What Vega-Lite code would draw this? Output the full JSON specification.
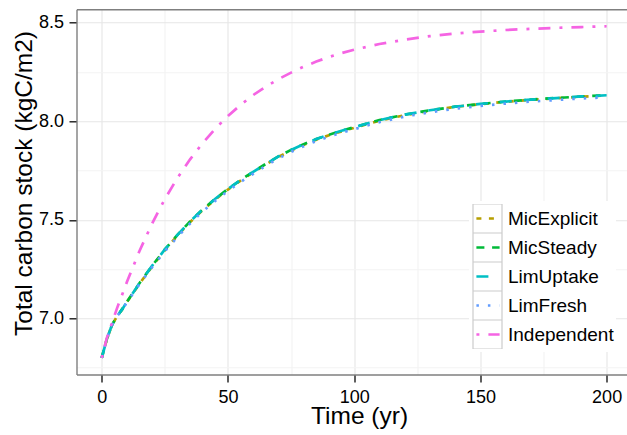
{
  "$schema": "https://vega.github.io/schema/vega-lite/v6.json",
  "width": 550.5,
  "height": 365.2,
  "autosize": {"type": "none"},
  "padding": {"left": 76.5, "top": 9.3, "right": 0, "bottom": 60.5},
  "background": "white",
  "config": {
    "view": {"stroke": null},
    "font": "Liberation Sans"
  },
  "data": {"values": [
    {"s":"MicExplicit","t":0,"c":6.800},{"s":"MicExplicit","t":2,"c":6.895},{"s":"MicExplicit","t":4,"c":6.965},{"s":"MicExplicit","t":6,"c":7.010},{"s":"MicExplicit","t":8,"c":7.045},{"s":"MicExplicit","t":10,"c":7.084},{"s":"MicExplicit","t":15,"c":7.177},{"s":"MicExplicit","t":20,"c":7.265},{"s":"MicExplicit","t":25,"c":7.347},{"s":"MicExplicit","t":30,"c":7.421},{"s":"MicExplicit","t":35,"c":7.489},{"s":"MicExplicit","t":40,"c":7.550},{"s":"MicExplicit","t":45,"c":7.604},{"s":"MicExplicit","t":50,"c":7.654},{"s":"MicExplicit","t":55,"c":7.699},{"s":"MicExplicit","t":60,"c":7.741},{"s":"MicExplicit","t":65,"c":7.781},{"s":"MicExplicit","t":70,"c":7.819},{"s":"MicExplicit","t":75,"c":7.852},{"s":"MicExplicit","t":80,"c":7.881},{"s":"MicExplicit","t":85,"c":7.907},{"s":"MicExplicit","t":90,"c":7.929},{"s":"MicExplicit","t":95,"c":7.949},{"s":"MicExplicit","t":100,"c":7.967},{"s":"MicExplicit","t":110,"c":8.003},{"s":"MicExplicit","t":120,"c":8.031},{"s":"MicExplicit","t":130,"c":8.054},{"s":"MicExplicit","t":140,"c":8.073},{"s":"MicExplicit","t":150,"c":8.087},{"s":"MicExplicit","t":160,"c":8.099},{"s":"MicExplicit","t":170,"c":8.109},{"s":"MicExplicit","t":180,"c":8.117},{"s":"MicExplicit","t":190,"c":8.125},{"s":"MicExplicit","t":200,"c":8.131},
    {"s":"MicSteady","t":0,"c":6.800},{"s":"MicSteady","t":2,"c":6.895},{"s":"MicSteady","t":4,"c":6.965},{"s":"MicSteady","t":6,"c":7.010},{"s":"MicSteady","t":8,"c":7.045},{"s":"MicSteady","t":10,"c":7.085},{"s":"MicSteady","t":15,"c":7.180},{"s":"MicSteady","t":20,"c":7.268},{"s":"MicSteady","t":25,"c":7.350},{"s":"MicSteady","t":30,"c":7.424},{"s":"MicSteady","t":35,"c":7.492},{"s":"MicSteady","t":40,"c":7.553},{"s":"MicSteady","t":45,"c":7.607},{"s":"MicSteady","t":50,"c":7.657},{"s":"MicSteady","t":55,"c":7.702},{"s":"MicSteady","t":60,"c":7.744},{"s":"MicSteady","t":65,"c":7.784},{"s":"MicSteady","t":70,"c":7.822},{"s":"MicSteady","t":75,"c":7.855},{"s":"MicSteady","t":80,"c":7.884},{"s":"MicSteady","t":85,"c":7.910},{"s":"MicSteady","t":90,"c":7.932},{"s":"MicSteady","t":95,"c":7.952},{"s":"MicSteady","t":100,"c":7.970},{"s":"MicSteady","t":110,"c":8.006},{"s":"MicSteady","t":120,"c":8.034},{"s":"MicSteady","t":130,"c":8.056},{"s":"MicSteady","t":140,"c":8.074},{"s":"MicSteady","t":150,"c":8.088},{"s":"MicSteady","t":160,"c":8.100},{"s":"MicSteady","t":170,"c":8.110},{"s":"MicSteady","t":180,"c":8.118},{"s":"MicSteady","t":190,"c":8.126},{"s":"MicSteady","t":200,"c":8.132},
    {"s":"LimUptake","t":0,"c":6.800},{"s":"LimUptake","t":2,"c":6.895},{"s":"LimUptake","t":4,"c":6.965},{"s":"LimUptake","t":6,"c":7.010},{"s":"LimUptake","t":8,"c":7.045},{"s":"LimUptake","t":10,"c":7.085},{"s":"LimUptake","t":15,"c":7.180},{"s":"LimUptake","t":20,"c":7.268},{"s":"LimUptake","t":25,"c":7.350},{"s":"LimUptake","t":30,"c":7.424},{"s":"LimUptake","t":35,"c":7.492},{"s":"LimUptake","t":40,"c":7.553},{"s":"LimUptake","t":45,"c":7.607},{"s":"LimUptake","t":50,"c":7.657},{"s":"LimUptake","t":55,"c":7.702},{"s":"LimUptake","t":60,"c":7.744},{"s":"LimUptake","t":65,"c":7.784},{"s":"LimUptake","t":70,"c":7.822},{"s":"LimUptake","t":75,"c":7.855},{"s":"LimUptake","t":80,"c":7.884},{"s":"LimUptake","t":85,"c":7.910},{"s":"LimUptake","t":90,"c":7.932},{"s":"LimUptake","t":95,"c":7.952},{"s":"LimUptake","t":100,"c":7.970},{"s":"LimUptake","t":110,"c":8.006},{"s":"LimUptake","t":120,"c":8.034},{"s":"LimUptake","t":130,"c":8.056},{"s":"LimUptake","t":140,"c":8.074},{"s":"LimUptake","t":150,"c":8.088},{"s":"LimUptake","t":160,"c":8.100},{"s":"LimUptake","t":170,"c":8.110},{"s":"LimUptake","t":180,"c":8.118},{"s":"LimUptake","t":190,"c":8.126},{"s":"LimUptake","t":200,"c":8.132},
    {"s":"LimFresh","t":0,"c":6.800},{"s":"LimFresh","t":2,"c":6.895},{"s":"LimFresh","t":4,"c":6.965},{"s":"LimFresh","t":6,"c":7.010},{"s":"LimFresh","t":8,"c":7.044},{"s":"LimFresh","t":10,"c":7.082},{"s":"LimFresh","t":15,"c":7.175},{"s":"LimFresh","t":20,"c":7.261},{"s":"LimFresh","t":25,"c":7.341},{"s":"LimFresh","t":30,"c":7.414},{"s":"LimFresh","t":35,"c":7.482},{"s":"LimFresh","t":40,"c":7.543},{"s":"LimFresh","t":45,"c":7.597},{"s":"LimFresh","t":50,"c":7.647},{"s":"LimFresh","t":55,"c":7.692},{"s":"LimFresh","t":60,"c":7.734},{"s":"LimFresh","t":65,"c":7.774},{"s":"LimFresh","t":70,"c":7.812},{"s":"LimFresh","t":75,"c":7.845},{"s":"LimFresh","t":80,"c":7.874},{"s":"LimFresh","t":85,"c":7.900},{"s":"LimFresh","t":90,"c":7.922},{"s":"LimFresh","t":95,"c":7.942},{"s":"LimFresh","t":100,"c":7.960},{"s":"LimFresh","t":110,"c":7.996},{"s":"LimFresh","t":120,"c":8.024},{"s":"LimFresh","t":130,"c":8.046},{"s":"LimFresh","t":140,"c":8.064},{"s":"LimFresh","t":150,"c":8.078},{"s":"LimFresh","t":160,"c":8.090},{"s":"LimFresh","t":170,"c":8.100},{"s":"LimFresh","t":180,"c":8.108},{"s":"LimFresh","t":190,"c":8.116},{"s":"LimFresh","t":200,"c":8.122},
    {"s":"Independent","t":0,"c":6.800},{"s":"Independent","t":2,"c":6.900},{"s":"Independent","t":4,"c":6.975},{"s":"Independent","t":6,"c":7.050},{"s":"Independent","t":8,"c":7.118},{"s":"Independent","t":10,"c":7.186},{"s":"Independent","t":15,"c":7.344},{"s":"Independent","t":20,"c":7.483},{"s":"Independent","t":25,"c":7.606},{"s":"Independent","t":30,"c":7.713},{"s":"Independent","t":35,"c":7.807},{"s":"Independent","t":40,"c":7.890},{"s":"Independent","t":45,"c":7.963},{"s":"Independent","t":50,"c":8.027},{"s":"Independent","t":55,"c":8.083},{"s":"Independent","t":60,"c":8.133},{"s":"Independent","t":65,"c":8.176},{"s":"Independent","t":70,"c":8.214},{"s":"Independent","t":75,"c":8.247},{"s":"Independent","t":80,"c":8.277},{"s":"Independent","t":85,"c":8.303},{"s":"Independent","t":90,"c":8.326},{"s":"Independent","t":95,"c":8.346},{"s":"Independent","t":100,"c":8.363},{"s":"Independent","t":110,"c":8.392},{"s":"Independent","t":120,"c":8.414},{"s":"Independent","t":130,"c":8.432},{"s":"Independent","t":140,"c":8.445},{"s":"Independent","t":150,"c":8.455},{"s":"Independent","t":160,"c":8.463},{"s":"Independent","t":170,"c":8.469},{"s":"Independent","t":180,"c":8.474},{"s":"Independent","t":190,"c":8.478},{"s":"Independent","t":200,"c":8.482}
  ]},
  "resolve": {"axis": {"x": "independent"}},
  "layer": [
    {
      "mark": {"type": "point", "opacity": 0, "filled": false, "color": "#cccccc", "strokeWidth": 1.2},
      "encoding": {
        "x": {"field": "t", "type": "quantitative",
              "scale": {"domain": [-10, 208.07], "nice": false, "zero": false},
              "axis": {"orient": "top", "title": null, "labels": false, "ticks": false, "grid": false,
                       "domain": true, "domainColor": "#7f7f7f", "domainWidth": 1.4}},
        "y": {"field": "c", "type": "quantitative",
              "scale": {"domain": [6.716, 8.568], "nice": false, "zero": false},
              "axis": {"orient": "left", "title": "Total carbon stock (kgC/m2)",
                       "values": [6.75, 7, 7.25, 7.5, 7.75, 8, 8.25, 8.5],
                       "format": ".1f",
                       "labelExpr": "abs(datum.value * 2 - round(datum.value * 2)) < 0.001 ? datum.label : ''",
                       "labelOverlap": false, "labelFlush": false,
                       "labelFontSize": 18, "labelColor": "black", "labelPadding": 5.5,
                       "grid": true,
                       "gridColor": {"condition": {"test": "abs(datum.value * 2 - round(datum.value * 2)) < 0.001", "value": "#e6e6e6"}, "value": "#f3f3f3"},
                       "gridWidth": 1.1,
                       "tickOpacity": {"condition": {"test": "abs(datum.value * 2 - round(datum.value * 2)) < 0.001", "value": 1}, "value": 0},
                       "tickColor": "#1a1a1a", "tickWidth": 1.4, "tickSize": 7.5,
                       "domain": true, "domainColor": "#7f7f7f", "domainWidth": 1.4,
                       "titleFontSize": 24.5, "titleFontWeight": "normal", "titleColor": "black",
                       "titleAngle": -90, "titleX": -45.5, "titleY": 173.7, "titleBaseline": "alphabetic", "titleAlign": "center"}},
        "shape": {"field": "s", "type": "nominal",
                  "sort": ["MicExplicit", "MicSteady", "LimUptake", "LimFresh", "Independent"],
                  "scale": {"range": ["square", "square", "square", "square", "square"]},
                  "legend": {"title": null, "orient": "none", "legendX": 392.5, "legendY": 191.7,
                             "padding": 3, "fillColor": "white",
                             "symbolSize": 841, "symbolStrokeWidth": 1.2, "symbolOpacity": 1,
                             "symbolFillColor": "white", "symbolStrokeColor": "#cccccc",
                             "labelFontSize": 19, "labelOpacity": 0, "labelOffset": 4, "rowPadding": 0,
                             "clipHeight": 29,
                             "zindex": 1,
                             "encode": {"symbols": {"update": {"stroke": {"value": "#cccccc"}, "strokeWidth": {"value": 1.2}, "fill": {"value": "white"}, "opacity": {"value": 1}, "strokeOpacity": {"value": 1}, "fillOpacity": {"value": 1}}}}}}
      }
    },
    {
      "mark": {"type": "line", "strokeWidth": 2.7, "strokeCap": "butt"},
      "encoding": {
        "x": {"field": "t", "type": "quantitative",
              "scale": {"domain": [-10, 208.07], "nice": false, "zero": false},
              "axis": {"orient": "bottom", "title": "Time (yr)",
                       "values": [0, 25, 50, 75, 100, 125, 150, 175, 200],
                       "format": "d",
                       "labelExpr": "datum.value % 50 === 0 ? datum.label : ''",
                       "labelOverlap": false, "labelFlush": false,
                       "labelFontSize": 18, "labelColor": "black", "labelPadding": 6,
                       "grid": true,
                       "gridColor": {"condition": {"test": "datum.value % 50 === 0", "value": "#e6e6e6"}, "value": "#f3f3f3"},
                       "gridWidth": 1.1,
                       "tickOpacity": {"condition": {"test": "datum.value % 50 === 0", "value": 1}, "value": 0},
                       "tickColor": "#1a1a1a", "tickWidth": 1.4, "tickSize": 7.5,
                       "domain": true, "domainColor": "#7f7f7f", "domainWidth": 1.4,
                       "titleFontSize": 24.5, "titleFontWeight": "normal", "titleColor": "black",
                       "titleX": 282.5, "titleY": 49, "titleBaseline": "alphabetic", "titleAlign": "center"}},
        "y": {"field": "c", "type": "quantitative",
              "scale": {"domain": [6.716, 8.568], "nice": false, "zero": false},
              "axis": {"orient": "left", "title": "Total carbon stock (kgC/m2)",
                       "values": [6.75, 7, 7.25, 7.5, 7.75, 8, 8.25, 8.5],
                       "format": ".1f",
                       "labelExpr": "abs(datum.value * 2 - round(datum.value * 2)) < 0.001 ? datum.label : ''",
                       "labelOverlap": false, "labelFlush": false,
                       "labelFontSize": 18, "labelColor": "black", "labelPadding": 5.5,
                       "grid": true,
                       "gridColor": {"condition": {"test": "abs(datum.value * 2 - round(datum.value * 2)) < 0.001", "value": "#e6e6e6"}, "value": "#f3f3f3"},
                       "gridWidth": 1.1,
                       "tickOpacity": {"condition": {"test": "abs(datum.value * 2 - round(datum.value * 2)) < 0.001", "value": 1}, "value": 0},
                       "tickColor": "#1a1a1a", "tickWidth": 1.4, "tickSize": 7.5,
                       "domain": true, "domainColor": "#7f7f7f", "domainWidth": 1.4,
                       "titleFontSize": 24.5, "titleFontWeight": "normal", "titleColor": "black",
                       "titleAngle": -90, "titleX": -45.5, "titleY": 173.7, "titleBaseline": "alphabetic", "titleAlign": "center"}},
        "stroke": {"field": "s", "type": "nominal",
                   "scale": {"domain": ["MicExplicit", "MicSteady", "LimUptake", "LimFresh", "Independent"],
                             "range": ["#B79F00", "#00BA38", "#00BFC4", "#619CFF", "#F564E3"]},
                   "legend": {"title": null, "orient": "none", "legendX": 392.5, "legendY": 191.7,
                              "padding": 3, "symbolType": "M-0.8,0L0.8,0",
                              "symbolSize": 841, "symbolStrokeWidth": 2.7,
                              "labelFontSize": 19, "labelColor": "black", "labelOffset": 4, "rowPadding": 0,
                              "clipHeight": 29,
                              "zindex": 2}},
        "strokeDash": {"field": "s", "type": "nominal",
                       "scale": {"domain": ["MicExplicit", "MicSteady", "LimUptake", "LimFresh", "Independent"],
                                 "range": [[5, 7.5], [8, 7.7], [12, 12], [2.5, 9], [3, 9, 12, 9]]},
                       "legend": {"title": null, "orient": "none", "legendX": 392.5, "legendY": 191.7,
                                  "padding": 3, "symbolType": "M-0.8,0L0.8,0",
                                  "symbolSize": 841, "symbolStrokeWidth": 2.7,
                                  "labelFontSize": 19, "labelColor": "black", "labelOffset": 4, "rowPadding": 0,
                                  "clipHeight": 29,
                                  "zindex": 2}}
      }
    }
  ]
}
